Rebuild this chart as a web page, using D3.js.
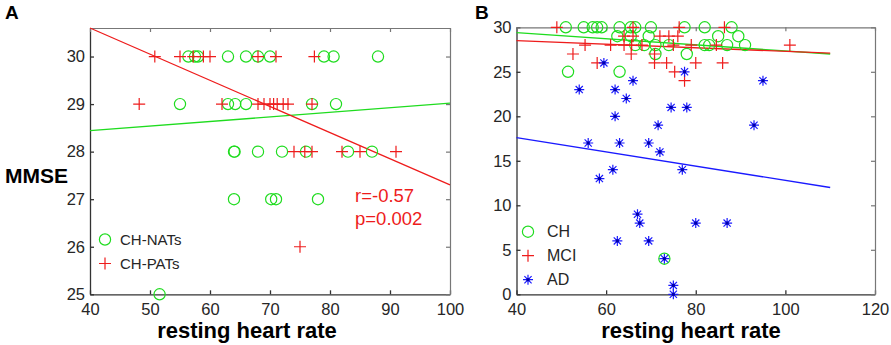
<!DOCTYPE html>
<html>
<head>
<meta charset="utf-8">
<script src="https://cdn.jsdelivr.net/npm/d3@7"></script>
<style>
  body { margin: 0; background: #fff; }
  svg { display: block; font-family: Arial, "Liberation Sans", sans-serif; }
</style>
</head>
<body>
<svg id="chart" width="891" height="345"></svg>
<script>
// ---- panel A data: [resting heart rate, MMSE]
const natsA = [
  [56.4, 30], [57.5, 30], [58, 30], [63, 30], [66, 30], [68, 30], [70, 30], [79, 30], [80.6, 30], [88, 30],
  [55, 29], [63, 29], [64.2, 29], [66, 29], [77, 29], [81, 29],
  [64, 28], [64.1, 28], [68, 28], [72, 28], [76, 28], [83, 28], [87, 28],
  [64, 27], [70.2, 27], [71, 27], [78, 27],
  [51.6, 25]
];
const patsA = [
  [50.8, 30], [55, 30], [57.2, 30], [58.9, 30], [60, 30], [68, 30], [71, 30], [77.4, 30],
  [48.2, 29], [62, 29], [68, 29], [69, 29], [70, 29], [70.6, 29], [71.2, 29], [72.2, 29], [73, 29], [77, 29],
  [74, 28], [75.8, 28], [77, 28], [82, 28], [85, 28], [91, 28],
  [75, 26]
];
const fitNatsA = [[40, 28.44], [100, 29.02]];
const fitPatsA = [[40, 30.6], [100, 27.3]];
const xTicksA = [40, 50, 60, 70, 80, 90, 100];
const yTicksA = [25, 26, 27, 28, 29, 30];

// ---- panel B data
const chB = [
  [51, 30], [55, 30], [57, 30], [58, 30], [59, 30], [63, 30], [65.5, 30], [66.5, 30], [70, 30], [77.5, 30], [82, 30], [88, 30],
  [62.5, 29], [65.5, 29], [69.5, 29], [85, 29], [89.5, 29],
  [66.5, 28], [68.5, 28], [71, 28], [74, 28], [82, 28], [83, 28], [87, 28], [91, 28],
  [71, 27], [78, 27],
  [51.5, 25], [63, 25],
  [73, 4]
];
const mciB = [
  [49, 30], [66, 30], [76.3, 30], [86.4, 30],
  [64, 29], [66, 29], [72, 29], [74, 29], [76, 29],
  [55.3, 28], [61, 28], [64, 28], [65.7, 28], [68, 28], [75, 28], [79, 28], [84.6, 28], [101, 28],
  [52.6, 27], [65.6, 27], [70.8, 27],
  [58, 26], [70.8, 26], [73.5, 26], [80, 26], [86, 26],
  [75.3, 25], [77.5, 24]
];
const adB = [
  [59.5, 26], [77.5, 25], [66, 24], [95, 24], [54, 23], [62, 23], [64.5, 22],
  [74.5, 21], [78, 21], [62, 20], [71.6, 19], [93, 19],
  [56, 17], [63, 17], [69.5, 17], [72, 16], [61.5, 14], [77, 14], [58.5, 13],
  [67, 9], [67.5, 8], [80, 8], [87, 8], [62.5, 6], [69.5, 6], [73, 4], [75, 1], [75, 0]
];
const fitChB = [[40, 29.4], [110, 27.0]];
const fitMciB = [[40, 28.5], [110, 27.1]];
const fitAdB = [[40, 17.6], [110, 12.0]];
const xTicksB = [40, 60, 80, 100, 120];
const yTicksB = [0, 5, 10, 15, 20, 25, 30];

const GREEN = "#1fdc1f", RED = "#ee1c1c", BLUE = "#1a1aff";
const svg = d3.select("#chart");

function marker(g, type, x, y, color) {
  if (type === "o") {
    g.append("circle").attr("cx", x).attr("cy", y).attr("r", 5.6)
      .attr("fill", "none").attr("stroke", color).attr("stroke-width", 1.2);
  } else if (type === "+") {
    const s = 6;
    g.append("path").attr("d", `M${x - s},${y}H${x + s}M${x},${y - s}V${y + s}`)
      .attr("stroke", color).attr("stroke-width", 1.2);
  } else {
    const s = 5, d = 3.6;
    g.append("path")
      .attr("d", `M${x - s},${y}H${x + s}M${x},${y - s}V${y + s}M${x - d},${y - d}L${x + d},${y + d}M${x - d},${y + d}L${x + d},${y - d}`)
      .attr("stroke", color).attr("stroke-width", 1.2);
    g.append("rect").attr("x", x - 1.5).attr("y", y - 1.5).attr("width", 3).attr("height", 3).attr("fill", "#0000aa");
  }
}

function panel(opt) {
  const x = d3.scaleLinear().domain(opt.xDomain).range(opt.xRange);
  const y = d3.scaleLinear().domain(opt.yDomain).range(opt.yRange);
  const g = svg.append("g");
  const [x0, x1] = opt.xRange, [y0, y1] = opt.yRange;
  const fmt = d3.format("d");

  // frame: bottom/left with labels, top/right ticks only
  const bottom = g.append("g").attr("transform", `translate(0,${y0})`)
    .call(d3.axisBottom(x).tickValues(opt.xTicks).tickFormat(fmt).tickSize(-4).tickPadding(9).tickSizeOuter(0));
  const left = g.append("g").attr("transform", `translate(${x0},0)`)
    .call(d3.axisLeft(y).tickValues(opt.yTicks).tickFormat(fmt).tickSize(-4).tickPadding(5).tickSizeOuter(0));
  const top = g.append("g").attr("transform", `translate(0,${y1})`)
    .call(d3.axisTop(x).tickValues(opt.xTicks).tickSize(-4).tickFormat("").tickSizeOuter(0));
  const right = g.append("g").attr("transform", `translate(${x1},0)`)
    .call(d3.axisRight(y).tickValues(opt.yTicks).tickSize(-4).tickFormat("").tickSizeOuter(0));
  [bottom, left].forEach(a => {
    a.selectAll("path,line").attr("stroke", "#333").attr("stroke-width", 1.3);
    a.selectAll("text").attr("fill", "#262626").style("font-size", "16.5px").style("font-family", "Arial, 'Liberation Sans', sans-serif");
  });
  [top, right].forEach(a => a.selectAll("path,line").attr("stroke", "#777").attr("stroke-width", 1.2));

  // fitted lines
  const line = d3.line().x(d => x(d[0])).y(d => y(d[1]));
  opt.fits.forEach(f => {
    g.append("path").datum(f.data).attr("d", line).attr("fill", "none")
      .attr("stroke", f.color).attr("stroke-width", 1.3);
  });

  // points
  opt.series.forEach(s => {
    s.data.forEach(d => marker(g, s.type, x(d[0]), y(d[1]), s.color));
  });

  // legend
  const [lx, ly0, lstep, lgap, lsize] = opt.legend;
  opt.series.forEach((s, i) => {
    const ly = ly0 + i * lstep;
    marker(g, s.type, lx, ly, s.color);
    g.append("text").attr("x", lx + lgap).attr("y", ly + 5.5)
      .attr("fill", "#262626").style("font-size", lsize + "px").text(s.name);
  });

  // x label
  g.append("text").attr("x", opt.titleX).attr("y", 338).attr("text-anchor", "middle")
    .style("font-size", "22px").style("font-weight", "bold").text("resting heart rate");
  return g;
}

panel({
  xDomain: [40, 100], xRange: [90, 450],
  yDomain: [25, 30.6], yRange: [294.3, 28],
  xTicks: xTicksA, yTicks: yTicksA,
  fits: [{ data: fitNatsA, color: GREEN }, { data: fitPatsA, color: RED }],
  series: [
    { name: "CH-NATs", type: "o", color: GREEN, data: natsA },
    { name: "CH-PATs", type: "+", color: RED, data: patsA }
  ],
  legend: [105, 239.5, 24, 15, 15],
  titleX: 247
});

panel({
  xDomain: [40, 120], xRange: [516.5, 875],
  yDomain: [0, 30], yRange: [294.3, 27.3],
  xTicks: xTicksB, yTicks: yTicksB,
  fits: [{ data: fitChB, color: GREEN }, { data: fitMciB, color: RED }, { data: fitAdB, color: BLUE }],
  series: [
    { name: "CH", type: "o", color: GREEN, data: chB },
    { name: "MCI", type: "+", color: RED, data: mciB },
    { name: "AD", type: "*", color: BLUE, data: adB }
  ],
  legend: [528, 231.7, 24, 19, 16],
  titleX: 691
});

// annotations
svg.append("text").attr("x", 5).attr("y", 183).style("font-size", "21px").style("font-weight", "bold").text("MMSE");
svg.append("text").attr("x", 5).attr("y", 18.5).style("font-size", "19px").style("font-weight", "bold").text("A");
svg.append("text").attr("x", 475).attr("y", 18.5).style("font-size", "19px").style("font-weight", "bold").text("B");
svg.append("text").attr("x", 355).attr("y", 201.5).attr("fill", RED).style("font-size", "18.5px").text("r=-0.57");
svg.append("text").attr("x", 355).attr("y", 225).attr("fill", RED).style("font-size", "18.5px").text("p=0.002");
</script>
</body>
</html>
